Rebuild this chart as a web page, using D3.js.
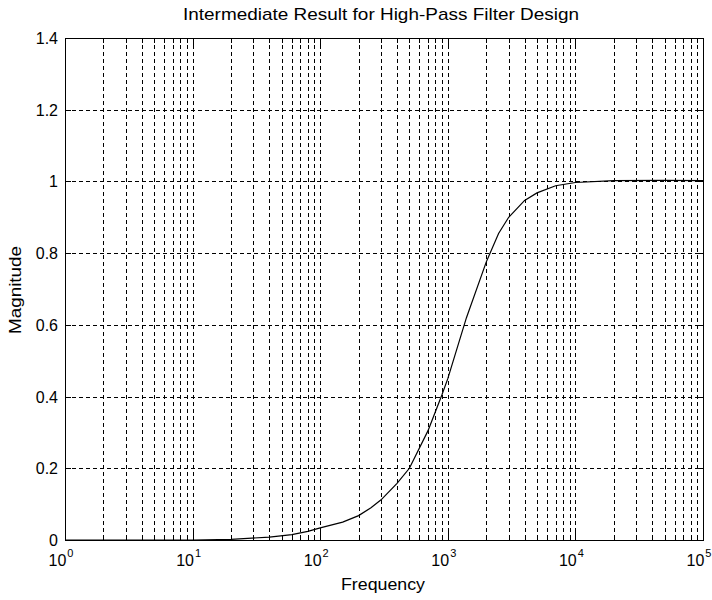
<!DOCTYPE html>
<html>
<head>
<meta charset="utf-8">
<script src="https://cdn.jsdelivr.net/npm/d3@7"></script>
<style>
	body { margin: 0; background: #fff; }
	svg { display: block; }
	text { font-family: "Liberation Sans", Arial, sans-serif; fill: #000; }
</style>
</head>
<body>
<svg id="chart" width="712" height="600"></svg>
<script>
// values
var frequency = [1, 10, 20, 40, 60, 80, 100, 150, 200, 250, 300, 400, 500, 700, 900, 1000, 1400, 2000, 2500, 3000, 4000, 5000, 7000, 10000, 20000, 50000, 100000];
var magnitude = [0, 0, 0.002, 0.008, 0.015, 0.024, 0.034, 0.05, 0.068, 0.09, 0.112, 0.158, 0.2, 0.305, 0.405, 0.45, 0.62, 0.775, 0.855, 0.9, 0.947, 0.968, 0.988, 0.997, 1.002, 1.003, 1.002];

var yTicks = [0, 0.2, 0.4, 0.6, 0.8, 1, 1.2, 1.4];
var yTickLabels = ["0", "0.2", "0.4", "0.6", "0.8", "1", "1.2", "1.4"];
var xDecades = [0, 1, 2, 3, 4, 5];

var titleText = "Intermediate Result for High-Pass Filter Design";
var xLabel = "Frequency";
var yLabel = "Magnitude";

var margin = { left: 65, top: 38, right: 703, bottom: 540 };

var svg = d3.select("#chart");

var x = d3.scaleLog().domain([1, 100000]).range([margin.left, margin.right]);
var y = d3.scaleLinear().domain([0, 1.4]).range([margin.bottom, margin.top]);

// minor positions 1..9 x 10^k
var minorTicks = [];
for (var k = 0; k < 5; k++) {
	for (var m = 1; m < 10; m++) {
		minorTicks.push(m * Math.pow(10, k));
	}
}
minorTicks.push(100000);

var grid = svg.append("g").attr("class", "grid");

grid.selectAll("line.vgrid").data(minorTicks.filter(function (d) { return d > 1 && d < 100000; }))
	.enter().append("line").attr("class", "vgrid")
	.attr("x1", function (d) { return Math.round(x(d)) + 0.5; })
	.attr("x2", function (d) { return Math.round(x(d)) + 0.5; })
	.attr("y1", margin.top).attr("y2", margin.bottom)
	.attr("stroke", "#000").attr("stroke-width", 1).attr("stroke-dasharray", "4,3");

grid.selectAll("line.hgrid").data(yTicks.slice(1, -1))
	.enter().append("line").attr("class", "hgrid")
	.attr("x1", margin.left).attr("x2", margin.right)
	.attr("y1", function (d) { return Math.round(y(d)) + 0.5; })
	.attr("y2", function (d) { return Math.round(y(d)) + 0.5; })
	.attr("stroke", "#000").attr("stroke-width", 1).attr("stroke-dasharray", "4,3");

// tick marks on all four sides, pointing inward
var ticks = svg.append("g").attr("class", "ticks").attr("stroke", "#000").attr("stroke-width", 1);

minorTicks.forEach(function (d) {
	var major = Math.abs(Math.log10(d) - Math.round(Math.log10(d))) < 1e-9;
	var len = major ? 9 : 5;
	var px = Math.round(x(d)) + 0.5;
	ticks.append("line").attr("x1", px).attr("x2", px).attr("y1", margin.bottom).attr("y2", margin.bottom - len);
	ticks.append("line").attr("x1", px).attr("x2", px).attr("y1", margin.top).attr("y2", margin.top + len);
});

yTicks.forEach(function (d) {
	var py = Math.round(y(d)) + 0.5;
	ticks.append("line").attr("x1", margin.left).attr("x2", margin.left + 6).attr("y1", py).attr("y2", py);
	ticks.append("line").attr("x1", margin.right).attr("x2", margin.right - 6).attr("y1", py).attr("y2", py);
});

// the curve
var line = d3.line()
	.x(function (d, i) { return x(frequency[i]); })
	.y(function (d) { return y(d); });

svg.append("path").datum(magnitude)
	.attr("d", line)
	.attr("fill", "none")
	.attr("stroke", "#000")
	.attr("stroke-width", 1.2);

// axes box
svg.append("rect")
	.attr("x", margin.left + 0.5).attr("y", margin.top + 0.5)
	.attr("width", margin.right - margin.left).attr("height", margin.bottom - margin.top)
	.attr("fill", "none").attr("stroke", "#000").attr("stroke-width", 1);

// y tick labels
svg.selectAll("text.ylab").data(yTicks)
	.enter().append("text").attr("class", "ylab")
	.attr("x", margin.left - 7)
	.attr("y", function (d) { return y(d) + 6; })
	.attr("text-anchor", "end")
	.attr("font-size", 16)
	.text(function (d, i) { return yTickLabels[i]; });

// x tick labels 10^k
var xl = svg.selectAll("text.xlab").data(xDecades)
	.enter().append("text").attr("class", "xlab")
	.attr("x", function (d) { return x(Math.pow(10, d)) - 4; })
	.attr("y", margin.bottom + 26)
	.attr("text-anchor", "middle")
	.attr("font-size", 16);
xl.append("tspan").text("10");
xl.append("tspan").attr("font-size", 11).attr("dy", -9).attr("dx", 1).text(function (d) { return d; });

// title and axis labels
svg.append("text")
	.attr("x", 381).attr("y", 20)
	.attr("text-anchor", "middle")
	.attr("font-size", 17)
	.attr("textLength", 396)
	.attr("lengthAdjust", "spacingAndGlyphs")
	.text(titleText);

svg.append("text")
	.attr("x", 383).attr("y", 590)
	.attr("text-anchor", "middle")
	.attr("font-size", 17)
	.attr("textLength", 84)
	.attr("lengthAdjust", "spacingAndGlyphs")
	.text(xLabel);

svg.append("text")
	.attr("transform", "translate(21,290) rotate(-90)")
	.attr("text-anchor", "middle")
	.attr("font-size", 17)
	.attr("textLength", 88)
	.attr("lengthAdjust", "spacingAndGlyphs")
	.text(yLabel);
</script>
</body>
</html>
